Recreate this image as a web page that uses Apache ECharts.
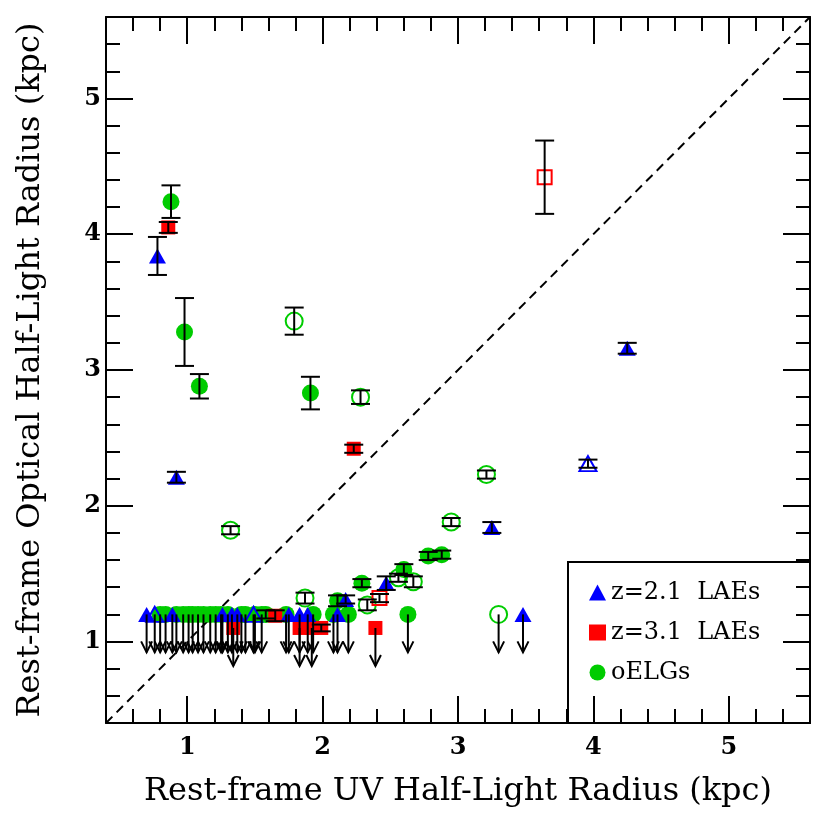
<!DOCTYPE html>
<html>
<head>
<meta charset="utf-8">
<script src="https://cdn.jsdelivr.net/npm/echarts@6.0.0/dist/echarts.min.js"></script>
<style>
  html, body { margin: 0; padding: 0; background: #fff; }
  #chart { width: 830px; height: 813px; }
</style>
</head>
<body>
<div id="chart"></div>
<script>
// axis ticks (kpc)
const majorTicks = [1, 2, 3, 4, 5];
const minorTicks = [0.6, 0.8, 1.2, 1.4, 1.6, 1.8, 2.2, 2.4, 2.6, 2.8, 3.2, 3.4, 3.6, 3.8,
  4.2, 4.4, 4.6, 4.8, 5.2, 5.4];
const oneToOne = [[0.4, 0.4], [5.6, 5.6]];

// measured: [UV radius, optical radius, error]
const lae21Filled = [[0.78, 3.84, 0.14], [0.92, 2.21, 0.04], [4.25, 3.16, 0.04], [3.25, 1.84, 0.04],
  [2.47, 1.43, 0.05], [2.17, 1.31, 0.03]];
const lae21Open = [[3.96, 2.31, 0.03]];
const lae31Filled = [[0.86, 4.05, 0.04], [2.23, 2.42, 0.03], [1.65, 1.19, 0.04], [1.99, 1.10, 0.025]];
const lae31Open = [[3.64, 4.42, 0.27], [2.42, 1.32, 0.03]];
const oelgFilled = [[0.88, 4.24, 0.12], [0.98, 3.28, 0.25], [1.09, 2.88, 0.09], [1.91, 2.83, 0.12],
  [2.78, 1.63, 0.03], [2.88, 1.64, 0.03], [2.60, 1.53, 0.04], [2.29, 1.43, 0.03], [2.11, 1.30, 0.04],
  [1.58, 1.20, 0.03]];
const oelgOpen = [[1.32, 1.82, 0.03], [1.79, 3.36, 0.10], [2.28, 2.80, 0.05], [3.21, 2.23, 0.03],
  [2.95, 1.88, 0.03], [2.67, 1.44, 0.04], [2.56, 1.47, 0.03], [2.33, 1.27, 0.04], [1.87, 1.32, 0.04]];

// upper limits: [UV radius, optical radius]
const lae21Limits = [[0.70, 1.2], [0.89, 1.2], [1.26, 1.2], [1.33, 1.2], [1.37, 1.2], [1.75, 1.2],
  [1.83, 1.2], [1.89, 1.2], [2.11, 1.2], [3.48, 1.2]];
const lae21OpenLimits = [[0.76, 1.2], [1.49, 1.2]];
const lae31Limits = [[1.34, 1.1], [1.83, 1.1], [1.92, 1.1], [2.39, 1.1]];
const oelgLimits = [[0.80, 1.2], [0.84, 1.2], [0.92, 1.2], [0.97, 1.2], [1.01, 1.2], [1.04, 1.2],
  [1.08, 1.2], [1.12, 1.2], [1.17, 1.2], [1.21, 1.2], [1.25, 1.2], [1.30, 1.2], [1.40, 1.2],
  [1.43, 1.2], [1.50, 1.2], [1.55, 1.2], [1.73, 1.2], [1.93, 1.2], [2.08, 1.2], [2.19, 1.2],
  [2.63, 1.2]];
const oelgOpenLimits = [[3.30, 1.2]];

const FONT = "'DejaVu Serif', serif";
const BLUE = '#0000ff';
const RED = '#ff0000';
const GREEN = '#00cc00';

function axisPair(dim, position, withLabels) {
  const base = {
    type: 'value',
    min: 0.4,
    max: 5.6,
    position: position,
    splitLine: { show: false },
    axisLine: { show: false }
  };
  const major = Object.assign({}, base, {
    axisLine: { show: true, onZero: false, lineStyle: { color: '#000', width: 2 } },
    axisTick: { show: true, inside: true, length: 27, customValues: majorTicks,
      lineStyle: { color: '#000', width: 2 } },
    axisLabel: withLabels ? {
      show: true, customValues: majorTicks, margin: dim === 'x' ? 13 : 5,
      fontFamily: FONT, fontWeight: 'bold', fontSize: 24, color: '#000'
    } : { show: false }
  });
  const minor = Object.assign({}, base, {
    axisTick: { show: true, inside: true, length: 14, customValues: minorTicks,
      lineStyle: { color: '#000', width: 2 } },
    axisLabel: { show: false }
  });
  return [major, minor];
}

const xAxes = axisPair('x', 'bottom', true).concat(axisPair('x', 'top', false));
const yAxes = axisPair('y', 'left', true).concat(axisPair('y', 'right', false));
Object.assign(xAxes[0], {
  name: 'Rest-frame UV Half-Light Radius (kpc)',
  nameLocation: 'middle',
  nameGap: 53,
  nameTextStyle: { fontFamily: FONT, fontSize: 32, color: '#000' }
});
Object.assign(yAxes[0], {
  name: 'Rest-frame Optical Half-Light Radius (kpc)',
  nameLocation: 'middle',
  nameGap: 59,
  nameTextStyle: { fontFamily: FONT, fontSize: 32, color: '#000' }
});

function renderErrorBar(params, api) {
  const x = api.value(0), y = api.value(1), e = api.value(2);
  const top = api.coord([x, y + e]);
  const bot = api.coord([x, y - e]);
  const w = 9.5;
  const style = { stroke: '#000', lineWidth: 2 };
  return {
    type: 'group',
    children: [
      { type: 'line', shape: { x1: top[0], y1: top[1], x2: bot[0], y2: bot[1] }, style: style },
      { type: 'line', shape: { x1: top[0] - w, y1: top[1], x2: top[0] + w, y2: top[1] }, style: style },
      { type: 'line', shape: { x1: bot[0] - w, y1: bot[1], x2: bot[0] + w, y2: bot[1] }, style: style }
    ]
  };
}

function renderArrow(params, api) {
  const p = api.coord([api.value(0), api.value(1)]);
  const len = 38, hw = 5.5, hh = 11;
  const tip = p[1] + len;
  return {
    type: 'group',
    children: [
      { type: 'line', shape: { x1: p[0], y1: p[1], x2: p[0], y2: tip },
        style: { stroke: '#000', lineWidth: 2 } },
      { type: 'polyline', shape: { points: [[p[0] - hw, tip - hh], [p[0], tip], [p[0] + hw, tip - hh]] },
        style: { stroke: '#000', lineWidth: 2, fill: null } }
    ]
  };
}

function scatter(name, data, symbol, size, color, open) {
  return {
    type: 'scatter',
    name: name,
    data: data.map(d => [d[0], d[1]]),
    symbol: symbol,
    symbolSize: size,
    z: 3,
    itemStyle: open
      ? { color: 'rgba(0,0,0,0)', borderColor: color, borderWidth: 2, opacity: 1 }
      : { color: color, opacity: 1 },
    emphasis: { disabled: true }
  };
}

const chart = echarts.init(document.getElementById('chart'), null, { renderer: 'canvas' });
chart.setOption({
  animation: false,
  backgroundColor: '#fff',
  grid: { left: 106, right: 20, top: 17, bottom: 90 },
  xAxis: xAxes,
  yAxis: yAxes,
  legend: {
    left: 584,
    top: 575,
    orient: 'vertical',
    itemGap: 15,
    itemWidth: 17,
    itemHeight: 16,
    selectedMode: false,
    formatter: name => name.replace(' ', '  '),
    itemStyle: { opacity: 1 },
    textStyle: { fontFamily: FONT, fontSize: 24, lineHeight: 25, color: '#000' },
    data: [
      { name: 'z=2.1 LAEs', icon: 'triangle' },
      { name: 'z=3.1 LAEs', icon: 'rect' },
      { name: 'oELGs', icon: 'circle' }
    ]
  },
  graphic: [{
    type: 'rect',
    shape: { x: 568, y: 562, width: 242, height: 161 },
    style: { fill: 'none', stroke: '#000', lineWidth: 2 },
    z: 10
  }],
  series: [
    {
      type: 'line',
      data: oneToOne,
      symbol: 'none',
      z: 2,
      lineStyle: { color: '#000', width: 2, type: [9, 6] }
    },
    scatter('oELGs', oelgFilled, 'circle', 17, GREEN, false),
    scatter('oELGs limit', oelgLimits, 'circle', 17, GREEN, false),
    scatter('oELGs open', oelgOpen, 'circle', 17, GREEN, true),
    scatter('oELGs open limit', oelgOpenLimits, 'circle', 17, GREEN, true),
    scatter('z=3.1 LAEs', lae31Filled, 'rect', 14, RED, false),
    scatter('z=3.1 limit', lae31Limits, 'rect', 14, RED, false),
    scatter('z=3.1 open', lae31Open, 'rect', 14, RED, true),
    scatter('z=2.1 LAEs', lae21Filled, 'triangle', [17, 15], BLUE, false),
    scatter('z=2.1 limit', lae21Limits, 'triangle', [17, 15], BLUE, false),
    scatter('z=2.1 open', lae21Open, 'triangle', [17, 15], BLUE, true),
    scatter('z=2.1 open limit', lae21OpenLimits, 'triangle', [17, 15], BLUE, true),
    {
      type: 'custom',
      name: 'errors',
      renderItem: renderErrorBar,
      data: [].concat(oelgFilled, oelgOpen, lae31Filled, lae31Open, lae21Filled, lae21Open),
      encode: { x: 0, y: 1 },
      z: 5
    },
    {
      type: 'custom',
      name: 'limits',
      renderItem: renderArrow,
      data: [].concat(oelgLimits, oelgOpenLimits, lae31Limits, lae21Limits, lae21OpenLimits),
      encode: { x: 0, y: 1 },
      z: 5
    }
  ]
});
</script>
</body>
</html>
